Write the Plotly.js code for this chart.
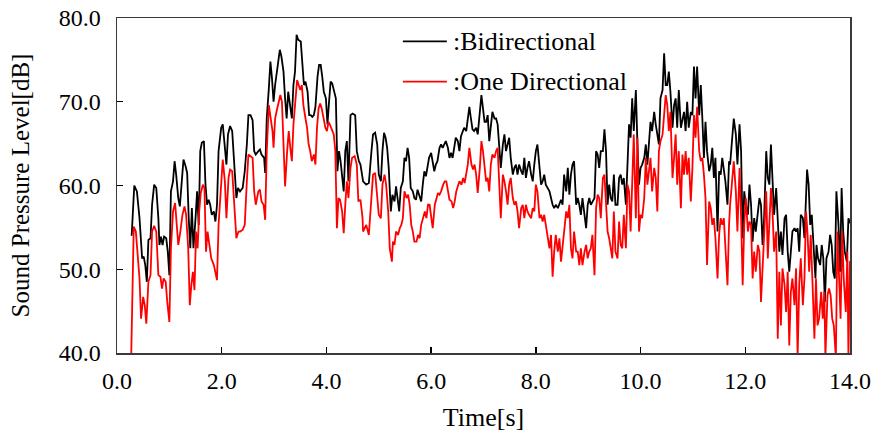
<!DOCTYPE html>
<html>
<head>
<meta charset="utf-8">
<script src="https://cdn.plot.ly/plotly-3.0.1.min.js"></script>
<style>html,body{margin:0;padding:0;background:#fff;}#chart{width:871px;height:435px;}</style>
</head>
<body>
<div id="chart"></div>
<script>
// Bidirectional (black)
var timeBi = [0.28,0.33,0.38,0.43,0.48,0.51,0.54,0.57,0.60,0.64,0.67,0.71,0.75,0.79,0.81,0.84,0.87,0.90,0.94,0.97,
1.00,1.03,1.07,1.10,1.13,1.17,1.20,1.23,1.27,1.31,1.34,1.37,1.40,1.43,1.46,1.50,1.53,1.56,1.59,1.62,1.66,1.69,1.72,1.75,1.78,1.81,1.85,1.88,1.91,1.94,1.99,
2.02,2.06,2.09,2.12,2.16,2.20,2.24,2.28,2.31,
2.35,2.40,2.44,2.48,2.51,2.55,2.59,2.62,2.65,2.70,2.73,2.76,2.81,2.83,2.86,2.90,2.93,2.96,2.99,
3.02,3.05,3.08,3.11,3.14,3.18,3.21,3.24,3.27,3.30,3.34,3.37,3.40,3.43,3.46,3.51,3.54,3.57,3.60,3.64,3.67,3.70,3.73,3.76,3.79,3.83,3.86,3.89,3.92,3.95,3.99,
4.02,4.05,4.08,4.11,4.14,4.18,4.21,4.24,4.27,4.30,4.33,4.36,4.39,4.42,4.46,4.50,4.55,4.58,4.62,4.65,4.69,
4.70,4.76,4.81,4.86,4.89,4.93,4.97,5.00,5.04,5.07,5.10,5.13,5.16,5.19,5.23,5.26,5.30,5.33,5.36,5.39,5.42,5.46,5.49,5.52,5.55,5.58,5.61,5.65,5.68,5.71,5.74,5.77,5.81,5.84,5.87,5.90,5.93,5.96,
6.00,6.03,6.06,6.09,6.12,6.16,6.19,6.22,6.25,6.28,6.32,6.35,6.38,6.41,6.44,6.47,6.51,6.54,6.57,6.60,6.63,6.67,6.70,6.73,6.76,6.79,6.82,6.86,6.89,6.93,6.96,6.99,7.02,
7.05,7.08,7.11,7.14,7.17,7.21,7.24,7.27,7.30,7.33,7.37,7.40,7.43,7.46,7.49,7.52,7.56,7.59,7.62,7.65,7.68,7.72,7.75,7.78,7.81,7.84,7.87,7.91,7.94,7.97,
8.00,8.03,8.07,8.10,8.13,8.16,8.19,8.22,8.26,8.29,8.32,8.35,8.38,8.42,8.45,8.48,8.51,8.54,8.58,8.61,8.64,8.67,8.70,8.73,8.77,8.80,8.83,8.86,8.89,8.93,8.96,8.99,
9.02,9.05,9.08,9.12,9.15,9.18,9.21,9.24,9.28,9.31,9.34,9.37,
9.40,9.43,9.46,9.49,9.52,9.56,9.59,9.62,9.65,9.68,9.72,9.75,9.78,9.81,9.84,9.87,9.91,9.94,9.97,
10.00,10.03,10.07,10.10,10.13,10.16,10.19,10.22,10.26,10.29,10.32,10.35,10.38,10.42,10.45,10.48,10.51,10.54,10.57,10.61,10.64,10.67,10.70,10.73,10.77,10.80,10.83,10.86,10.89,10.92,10.96,10.99,
11.02,11.05,11.08,11.12,11.15,11.18,11.21,11.24,11.27,11.31,11.34,11.37,11.40,11.43,11.47,11.50,11.53,11.56,11.59,11.62,11.66,11.69,11.71,
11.78,11.82,11.85,11.89,11.92,11.95,11.98,12.01,12.05,12.08,12.11,12.14,12.17,12.20,12.24,12.27,12.30,12.33,12.36,12.40,12.43,12.46,12.49,12.52,12.55,12.59,12.62,12.65,12.68,12.71,12.75,12.78,12.81,12.84,12.87,12.90,12.94,12.97,
13.00,13.03,13.06,13.10,13.13,13.16,13.18,13.21,13.24,13.27,13.31,13.34,13.36,13.39,13.43,13.46,13.49,13.52,13.55,13.59,13.62,13.65,13.68,13.71,13.74,13.78,13.81,13.84,13.87,13.90,13.94,13.97,14.00];
var splBi = [54.0,60.0,59.3,56.1,51.3,51.5,50.5,48.5,53.5,53.7,57.7,60.1,59.7,56.1,52.9,53.9,52.9,53.9,53.7,52.1,
49.3,59.3,60.5,62.9,61.3,58.5,57.5,60.5,63.1,62.3,61.5,56.1,52.5,57.3,52.5,56.1,59.3,55.3,64.1,65.1,65.3,60.1,57.7,58.3,57.7,56.5,56.9,55.7,57.7,64.1,66.9,
67.3,64.1,62.5,66.1,67.1,66.5,62.1,58.5,59.7,
59.3,59.7,61.7,64.9,68.4,68.4,67.8,64.1,63.7,64.1,64.3,63.7,63.3,61.5,68.0,71.6,74.8,72.8,70.0,
72.0,73.6,74.8,76.2,75.4,73.6,70.4,68.0,71.2,69.6,68.0,72.0,73.6,78.0,77.4,77.2,74.4,72.0,72.4,71.2,68.4,68.4,68.2,68.4,69.4,73.0,74.4,74.4,73.0,71.2,70.4,
67.3,70.0,72.4,72.2,71.4,70.4,61.7,64.1,62.9,61.3,59.3,64.1,65.3,60.5,68.4,68.6,68.4,64.1,62.9,62.5,60.5,
60.5,60.1,60.3,64.1,66.1,66.3,64.9,61.3,60.5,64.1,66.3,65.7,64.5,62.1,56.9,58.9,58.1,59.9,58.5,56.9,59.7,60.5,63.3,62.9,64.5,63.3,59.7,59.3,58.5,58.3,59.5,58.9,58.1,60.1,61.7,61.1,62.5,63.3,
63.9,62.9,61.7,62.5,62.9,64.5,64.9,64.5,64.9,65.3,64.5,63.3,63.9,63.3,64.5,65.7,65.3,64.1,65.9,66.3,66.9,66.5,68.0,69.4,68.0,66.7,66.5,66.9,66.1,68.4,70.8,69.2,67.6,
67.6,68.4,65.3,66.9,68.8,68.0,68.0,67.3,64.1,62.1,64.9,66.1,64.1,64.9,65.7,63.3,61.3,62.1,62.5,61.3,62.5,61.7,61.3,63.3,60.9,62.1,62.9,61.3,60.5,62.5,
64.1,64.9,62.5,60.1,60.5,61.3,60.1,59.7,59.3,58.5,57.7,57.3,57.7,57.3,57.7,58.3,57.7,61.3,59.3,62.1,58.9,61.3,62.5,62.9,57.7,58.5,57.7,56.5,58.5,56.5,54.9,57.7,
58.5,57.7,58.1,58.5,64.1,63.7,62.1,64.1,64.1,66.7,64.1,57.7,
60.1,58.5,58.1,61.3,57.7,57.7,60.9,61.3,60.1,60.9,57.7,61.7,67.3,65.7,70.4,66.5,71.4,64.9,60.1,
62.1,62.5,63.3,64.9,62.5,65.7,67.6,66.5,68.8,67.3,66.1,64.9,70.4,71.4,75.8,72.0,72.0,73.6,71.2,66.9,69.6,70.4,66.9,71.4,66.9,68.0,68.8,66.5,70.0,66.9,68.8,68.4,
74.2,70.4,74.2,68.4,72.0,68.0,63.3,67.6,64.1,61.7,62.5,64.5,60.9,63.3,54.5,61.7,61.3,63.3,62.1,60.5,57.7,62.9,62.5,
68.0,66.1,62.5,67.3,64.1,53.7,59.3,57.7,56.5,60.1,57.7,53.3,56.1,54.5,56.5,58.5,57.7,52.9,56.1,64.1,60.9,60.1,64.9,60.9,56.5,59.7,56.1,52.1,54.5,51.7,56.1,56.5,52.1,49.7,52.1,54.5,54.9,54.5,
54.9,52.1,56.5,56.1,53.7,57.7,61.9,60.1,55.3,56.5,52.1,48.9,52.9,51.3,50.5,52.9,51.3,46.1,51.3,52.1,54.1,52.9,49.7,48.9,59.3,55.3,49.7,59.7,54.5,52.1,50.9,56.1,55.5];

// One Directional (red)
var timeOne = [0.26,0.29,0.32,0.36,0.39,0.43,0.46,0.50,0.53,0.56,0.60,0.64,0.67,0.71,0.75,0.79,0.83,0.86,0.89,0.93,0.96,
1.00,1.03,1.07,1.11,1.14,1.17,1.21,1.25,1.29,1.32,1.36,1.39,1.42,1.45,1.48,1.51,1.54,1.57,1.60,1.64,1.67,1.70,1.73,1.76,1.80,1.85,1.88,1.91,1.94,1.99,
2.02,2.06,2.09,2.13,2.16,2.20,2.24,2.28,2.32,
2.35,2.40,2.44,2.48,2.51,2.55,2.59,2.62,2.65,2.70,2.73,2.76,2.80,2.83,2.86,2.90,2.94,2.97,2.99,
3.02,3.06,3.09,3.12,3.15,3.18,3.21,3.25,3.28,3.31,3.34,3.37,3.41,3.44,3.47,3.50,3.53,3.56,3.60,3.63,3.66,3.69,3.72,3.76,3.79,3.82,3.85,3.88,3.91,3.95,3.98,
4.01,4.04,4.07,4.10,4.14,4.17,4.20,4.23,4.26,4.30,4.33,4.36,4.39,4.42,4.46,4.49,4.54,4.58,4.61,4.65,4.69,
4.70,4.76,4.81,4.85,4.89,4.93,4.97,5.00,5.04,5.07,5.11,5.14,5.18,5.21,5.25,5.27,5.30,5.33,5.37,5.40,5.43,5.46,5.49,5.53,5.56,5.59,5.62,5.65,5.68,5.72,5.75,5.78,5.81,5.84,5.88,5.91,5.94,5.97,
6.00,6.03,6.07,6.10,6.13,6.16,6.19,6.23,6.26,6.29,6.32,6.35,6.39,6.42,6.45,6.48,6.51,6.54,6.58,6.61,6.64,6.67,6.70,6.73,6.77,6.80,6.83,6.86,6.89,6.93,6.96,6.99,7.02,
7.05,7.08,7.11,7.14,7.17,7.21,7.24,7.27,7.30,7.33,7.37,7.40,7.43,7.46,7.49,7.52,7.56,7.59,7.62,7.65,7.68,7.72,7.75,7.78,7.81,7.84,7.87,7.91,7.94,7.97,
8.00,8.03,8.07,8.10,8.13,8.16,8.19,8.22,8.26,8.29,8.32,8.35,8.38,8.42,8.45,8.48,8.51,8.54,8.58,8.61,8.64,8.67,8.70,8.73,8.77,8.80,8.83,8.86,8.89,8.93,8.96,8.99,
9.02,9.05,9.08,9.12,9.15,9.18,9.21,9.24,9.28,9.31,9.34,9.37,
9.40,9.43,9.46,9.49,9.52,9.56,9.59,9.62,9.65,9.68,9.72,9.75,9.78,9.81,9.84,9.87,9.91,9.94,9.97,
10.00,10.03,10.07,10.10,10.13,10.16,10.19,10.22,10.26,10.29,10.32,10.35,10.38,10.42,10.45,10.48,10.51,10.54,10.57,10.61,10.64,10.67,10.70,10.73,10.77,10.80,10.83,10.86,10.89,10.92,10.96,10.99,
11.02,11.05,11.08,11.12,11.15,11.18,11.21,11.24,11.27,11.31,11.34,11.37,11.40,11.43,11.47,11.50,11.53,11.56,11.59,11.62,11.66,11.69,11.71,
11.78,11.82,11.85,11.89,11.92,11.95,11.98,12.01,12.05,12.08,12.11,12.14,12.17,12.20,12.24,12.27,12.30,12.33,12.36,12.40,12.43,12.46,12.49,12.52,12.55,12.59,12.62,12.65,12.68,12.71,12.75,12.78,12.81,12.84,12.87,12.90,12.94,12.97,
13.00,13.03,13.06,13.10,13.13,13.16,13.19,13.22,13.25,13.29,13.32,13.35,13.38,13.41,13.45,13.48,13.51,13.53,13.57,13.60,13.63,13.66,13.69,13.73,13.76,13.79,13.82,13.85,13.88,13.92,13.95,13.97,14.00];
var splOne = [36.0,48.1,55.1,54.5,52.1,48.9,44.1,46.7,45.7,43.5,48.5,49.3,54.5,55.2,54.5,49.3,49.1,47.7,48.9,48.5,46.1,
43.7,52.5,56.9,57.9,55.5,52.9,54.5,56.5,57.5,56.5,52.5,45.7,48.1,49.7,47.5,54.5,52.5,56.9,59.1,60.1,59.7,52.1,54.5,52.9,51.3,50.5,49.7,48.7,55.3,60.9,
63.1,60.5,56.1,60.9,61.9,61.7,57.7,53.7,54.5,
54.5,54.7,55.3,60.5,63.7,63.5,63.3,59.3,57.7,59.3,59.5,58.1,57.7,55.9,64.1,69.6,68.0,66.5,64.5,
68.0,69.2,70.2,70.8,70.0,64.9,59.9,64.1,66.5,64.5,62.9,67.3,70.0,72.6,72.0,71.4,72.0,69.6,68.0,66.9,64.9,64.1,62.9,63.7,62.5,66.9,69.2,69.8,69.2,68.0,66.9,
66.5,67.6,67.2,66.7,66.1,64.1,54.9,58.5,58.3,56.9,54.3,57.7,60.5,58.5,62.1,63.3,63.5,62.5,58.1,58.3,56.1,
54.5,55.3,54.1,57.7,61.3,61.5,58.9,56.5,56.1,60.1,61.3,60.1,56.9,52.5,50.9,53.3,52.9,54.5,54.1,54.9,55.3,56.1,59.3,58.5,58.9,57.7,55.3,54.5,53.3,53.3,54.1,53.7,55.3,56.1,56.9,56.1,57.7,57.7,
56.1,54.9,57.7,58.5,59.1,58.9,59.3,60.1,60.5,60.5,59.3,58.3,58.1,57.3,58.1,59.3,59.9,60.5,60.1,60.9,60.3,61.3,62.5,64.5,62.5,61.9,62.5,61.3,59.1,62.1,65.3,64.1,62.5,
60.5,60.9,59.3,62.5,63.7,63.3,64.1,64.5,60.1,56.1,61.3,60.5,59.3,57.7,60.1,60.9,58.5,57.7,58.1,56.9,54.9,57.3,57.7,56.1,57.7,56.9,56.5,56.1,57.3,56.9,
60.1,59.3,56.1,56.5,55.7,56.5,55.3,54.1,52.5,54.1,49.1,52.1,54.1,52.1,53.7,50.9,52.5,54.5,56.9,56.1,57.7,52.5,51.3,54.5,52.1,52.1,50.5,52.5,50.5,52.1,52.9,51.3,
52.1,52.5,54.1,49.3,57.3,58.9,58.5,56.1,60.9,61.3,57.7,54.5,
53.7,52.5,51.3,56.9,52.1,51.3,55.7,52.9,52.5,56.5,52.5,60.1,59.3,54.5,60.9,66.1,56.1,65.7,54.5,
56.5,56.1,58.5,63.3,60.1,61.7,63.3,59.3,62.1,60.9,56.9,64.1,65.3,66.1,68.8,70.8,69.6,66.5,68.8,60.9,63.3,66.1,60.1,64.1,57.3,63.7,61.3,64.1,61.3,63.3,58.1,62.1,
68.4,65.7,69.4,64.1,62.9,63.3,61.3,58.5,50.5,58.1,57.3,55.3,56.1,53.7,48.9,54.1,56.1,55.3,56.1,52.1,48.1,55.3,57.7,
62.9,59.3,54.5,62.1,56.1,48.1,55.3,58.5,54.5,55.7,55.3,48.9,52.1,49.7,52.9,52.1,46.1,50.1,55.3,59.3,51.3,55.3,59.7,56.9,52.1,54.5,41.7,49.7,43.3,50.1,48.1,44.9,49.7,40.9,47.3,48.9,45.7,50.1,
39.5,48.1,51.3,45.7,48.9,56.9,54.1,49.7,54.1,47.3,41.7,48.9,43.3,44.1,47.3,44.1,47.3,39.5,46.9,47.7,46.9,44.1,43.3,39.5,54.5,49.3,44.1,54.5,48.9,44.9,52.1,39.5,51.0];

var seriesNames = [':Bidirectional', ':One Directional'];
var seriesColors = ['#000000', '#ff0000'];
var xTicks = [0,2,4,6,8,10,12,14];
var yTicks = [40,50,60,70,80];

var serif = "Liberation Serif";

var traces = [
  {x: timeBi, y: splBi, type: 'scatter', mode: 'lines', name: seriesNames[0],
   line: {color: seriesColors[0], width: 1.8}, showlegend: false},
  {x: timeOne, y: splOne, type: 'scatter', mode: 'lines', name: seriesNames[1],
   line: {color: seriesColors[1], width: 1.8}, showlegend: false}
];

var axisCommon = {
  showgrid: false, zeroline: false, showline: true, mirror: true,
  linecolor: '#3a3a3a', linewidth: 1.5,
  ticks: 'inside', ticklen: 6, tickwidth: 1.3, tickcolor: '#000',
  tickformat: '.1f', tickfont: {family: serif, size: 24, color: '#000'}
};

var layout = {
  width: 871, height: 435,
  font: {family: serif, size: 24, color: '#000'},
  margin: {l: 117, r: 21, t: 18, b: 82},
  paper_bgcolor: '#fff', plot_bgcolor: '#fff',
  xaxis: Object.assign({}, axisCommon, {
    range: [0, 14], tickvals: xTicks, ticklabelstandoff: 6,
    title: {text: 'Time[s]', font: {family: serif, size: 26, color: '#000'}, standoff: 14}
  }),
  yaxis: Object.assign({}, axisCommon, {
    range: [40, 80], tickvals: yTicks, ticklabelstandoff: 10,
    title: {text: 'Sound Pressure Level[dB]', font: {family: serif, size: 25, color: '#000'}, standoff: 22}
  }),
  shapes: [
    {type: 'line', xref: 'paper', yref: 'paper', x0: 0.390, x1: 0.450, y0: 0.930, y1: 0.930,
     line: {color: seriesColors[0], width: 1.8}},
    {type: 'line', xref: 'paper', yref: 'paper', x0: 0.390, x1: 0.450, y0: 0.810, y1: 0.810,
     line: {color: seriesColors[1], width: 1.8}}
  ],
  annotations: [
    {xref: 'paper', yref: 'paper', x: 0.455, y: 0.930, xanchor: 'left', yanchor: 'middle',
     text: seriesNames[0], showarrow: false, font: {family: serif, size: 26, color: '#000'}},
    {xref: 'paper', yref: 'paper', x: 0.455, y: 0.810, xanchor: 'left', yanchor: 'middle',
     text: seriesNames[1], showarrow: false, font: {family: serif, size: 26, color: '#000'}}
  ]
};

Plotly.newPlot('chart', traces, layout, {displayModeBar: false, staticPlot: true});
</script>
</body>
</html>
